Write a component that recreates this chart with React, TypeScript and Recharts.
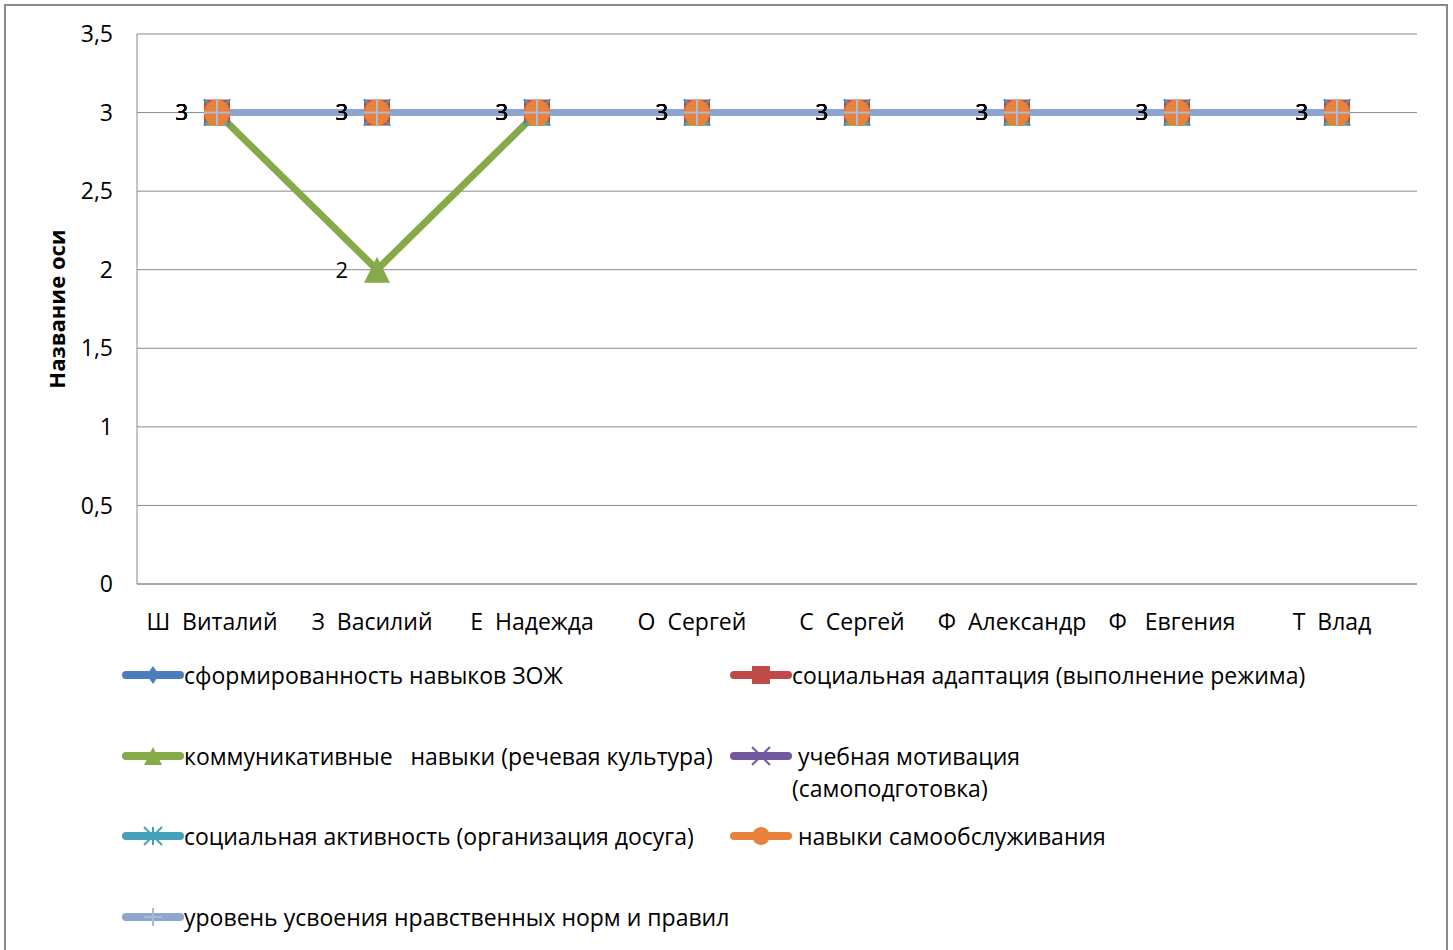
import React from "react";
import { LineChart, Line, XAxis, YAxis, CartesianGrid, LabelList } from "recharts";

const students = [
  "Ш  Виталий",
  "З  Василий",
  "Е  Надежда",
  "О  Сергей",
  "С  Сергей",
  "Ф  Александр",
  "Ф   Евгения",
  "Т  Влад",
];

const zozh = [3, 3, 3, 3, 3, 3, 3, 3];
const adaptation = [3, 3, 3, 3, 3, 3, 3, 3];
const communication = [3, 2, 3, 3, 3, 3, 3, 3];
const motivation = [3, 3, 3, 3, 3, 3, 3, 3];
const activity = [3, 3, 3, 3, 3, 3, 3, 3];
const selfCare = [3, 3, 3, 3, 3, 3, 3, 3];
const morals = [3, 3, 3, 3, 3, 3, 3, 3];

const yTicks = [0, 0.5, 1, 1.5, 2, 2.5, 3, 3.5];

const series = [
  { key: "zozh", name: "сформированность навыков ЗОЖ", values: zozh, color: "#4A7EBB", marker: "diamond" },
  { key: "adaptation", name: "социальная адаптация (выполнение режима)", values: adaptation, color: "#BE4B48", marker: "square" },
  { key: "communication", name: "коммуникативные   навыки (речевая культура)", values: communication, color: "#86A94A", marker: "triangle" },
  { key: "motivation", name: " учебная мотивация\n(самоподготовка)", values: motivation, color: "#72589C", marker: "x" },
  { key: "activity", name: "социальная активность (организация досуга)", values: activity, color: "#44A0B8", marker: "star" },
  { key: "selfCare", name: " навыки самообслуживания", values: selfCare, color: "#E8823A", marker: "circle" },
  { key: "morals", name: "уровень усвоения нравственных норм и правил", values: morals, color: "#8EA6CD", marker: "plus" },
];

const data = students.map((name, i) => {
  const row: Record<string, string | number> = { name };
  series.forEach((s) => (row[s.key] = s.values[i]));
  return row;
});

const FONT = '"Open Sans", sans-serif';

function Marker({ cx, cy, type, color, r = 13 }: any) {
  if (cx == null || cy == null) return null;
  switch (type) {
    case "diamond":
      return <path d={`M${cx} ${cy - r}L${cx + r * 0.7} ${cy}L${cx} ${cy + r}L${cx - r * 0.7} ${cy}Z`} fill={color} />;
    case "square":
      return <rect x={cx - r} y={cy - r} width={r * 2} height={r * 2} fill={color} />;
    case "triangle":
      return <path d={`M${cx} ${cy - r}L${cx + r} ${cy + r}L${cx - r} ${cy + r}Z`} fill={color} />;
    case "x":
      return (
        <g stroke={color} strokeWidth={2}>
          <line x1={cx - r} y1={cy - r} x2={cx + r} y2={cy + r} />
          <line x1={cx - r} y1={cy + r} x2={cx + r} y2={cy - r} />
        </g>
      );
    case "star":
      return (
        <g stroke={color} strokeWidth={2}>
          <line x1={cx - r} y1={cy - r} x2={cx + r} y2={cy + r} />
          <line x1={cx - r} y1={cy + r} x2={cx + r} y2={cy - r} />
          <line x1={cx} y1={cy - r} x2={cx} y2={cy + r} />
        </g>
      );
    case "circle":
      return <circle cx={cx} cy={cy} r={r} fill={color} />;
    case "plus":
      return (
        <g stroke="#A9BBDA" strokeWidth={2}>
          <line x1={cx - r} y1={cy} x2={cx + r} y2={cy} />
          <line x1={cx} y1={cy - r} x2={cx} y2={cy + r} />
        </g>
      );
    default:
      return null;
  }
}

const NameTick = ({ x, y, payload }: any) => (
  <text x={x - 5} y={y} dy={44} textAnchor="middle" fontSize={23} fill="#000" style={{ whiteSpace: "pre", fontFamily: FONT }}>
    {payload.value}
  </text>
);

const fmt = (v: number) => String(v).replace(".", ",");

export default function App() {
  return (
    <div style={{ position: "absolute", left: 0, top: 0, width: 1453, height: 950, overflow: "hidden", background: "#fff", fontFamily: FONT }}>
      <div style={{ position: "absolute", left: 4, top: 4, width: 1440, height: 1000, border: "2px solid #8a8a8a" }} />
      <div style={{ position: "absolute", left: 0, top: 0 }}>
        <LineChart width={1453} height={650} data={data} margin={{ top: 34, right: 36, left: 0, bottom: 0 }} style={{ fontFamily: FONT }}>
          <CartesianGrid vertical={false} stroke="#8a8a8a" />
          <XAxis
            dataKey="name"
            height={66}
            tickLine={false}
            tickSize={0}
            stroke="#8a8a8a"
            tick={<NameTick />}
            interval={0}
            padding={{ left: 80, right: 80 }}
          />
          <YAxis
            width={137}
            domain={[0, 3.5]}
            ticks={yTicks}
            tickFormatter={fmt}
            tickLine={false}
            tickSize={0}
            tickMargin={24}
            stroke="#8a8a8a"
            tick={{ fill: "#000", fontSize: 23 }}
            label={{ value: "Название оси", angle: -90, position: "insideLeft", offset: 57, style: { textAnchor: "middle", fontWeight: "bold", fontSize: 22, fill: "#000" } }}
          />
          {series.map((s) => (
            <Line
              key={s.key}
              dataKey={s.key}
              name={s.name}
              stroke={s.color}
              strokeWidth={7}
              strokeLinecap="round"
              strokeLinejoin="round"
              isAnimationActive={false}
              activeDot={false}
              dot={(p: any) => <Marker key={`${s.key}-${p.index}`} cx={p.cx} cy={p.cy} type={s.marker} color={s.color} />}
            >
              <LabelList dataKey={s.key} position="left" offset={29} fill="#000" fontSize={22} />
            </Line>
          ))}
        </LineChart>
      </div>
      {series.map((s, i) => {
        const col = i % 2;
        const row = Math.floor(i / 2);
        return (
          <div
            key={s.key}
            style={{ position: "absolute", left: col ? 730 : 122, top: 659 + row * 80.5, display: "flex", alignItems: "flex-start", fontSize: 23, lineHeight: "32px", color: "#000" }}
          >
            <svg width={62} height={32} style={{ flex: "none" }}>
              <line x1={4} y1={16} x2={58} y2={16} stroke={s.color} strokeWidth={8} strokeLinecap="round" />
              <Marker cx={31} cy={16} type={s.marker} color={s.color} r={9} />
            </svg>
            <span style={{ whiteSpace: "pre" }}>{s.name}</span>
          </div>
        );
      })}
    </div>
  );
}
